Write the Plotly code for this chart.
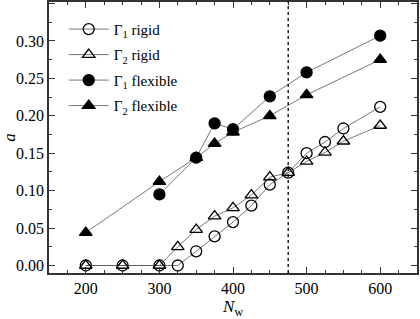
import plotly.graph_objects as go

nw_rigid = [200, 250, 300, 325, 350, 375, 400, 425, 450, 475, 500, 525, 550, 600]
g1_rigid = [0.0, 0.0, 0.0, 0.0, 0.019, 0.039, 0.058, 0.080, 0.108, 0.124, 0.150, 0.165, 0.183, 0.212]
g2_rigid = [0.0, 0.0, 0.0, 0.025, 0.048, 0.066, 0.077, 0.094, 0.118, 0.124, 0.139, 0.151, 0.166, 0.187]

nw_g1_flex = [300, 350, 375, 400, 450, 500, 600]
g1_flex = [0.095, 0.144, 0.190, 0.182, 0.226, 0.258, 0.307]
nw_g2_flex = [200, 300, 350, 375, 400, 450, 500, 600]
g2_flex = [0.044, 0.112, 0.144, 0.163, 0.178, 0.200, 0.228, 0.275]

vline_x = 475

FONT = "Liberation Serif"
line_col = "#555555"
fig = go.Figure()
series = [
    ("Γ<sub>1</sub> rigid", nw_rigid, g1_rigid, "circle-open"),
    ("Γ<sub>2</sub> rigid", nw_rigid, g2_rigid, "triangle-up-open"),
    ("Γ<sub>1</sub> flexible", nw_g1_flex, g1_flex, "circle"),
    ("Γ<sub>2</sub> flexible", nw_g2_flex, g2_flex, "triangle-up"),
]
for i, (name, x, y, sym) in enumerate(series):
    fig.add_trace(go.Scatter(
        x=x, y=y, name=name, mode="lines+markers", legendgroup=f"g{i}",
        line=dict(color=line_col, width=0.8),
        marker=dict(symbol=sym, size=11, color="black",
                    line=dict(color="black", width=1.3)),
    ))

fig.add_shape(type="line", x0=vline_x, x1=vline_x, y0=0, y1=1, yref="paper",
              line=dict(color="black", width=1.3, dash="dot"))

fig.update_layout(
    width=420, height=319,
    margin=dict(l=49, r=3, t=2, b=46),
    paper_bgcolor="white", plot_bgcolor="white",
    font=dict(family=FONT, color="black", size=16),
    showlegend=True,
    legend=dict(x=0.04, y=0.96, xanchor="left", yanchor="top",
                bgcolor="rgba(0,0,0,0)", tracegroupgap=3,
                font=dict(family=FONT, size=15, color="black"),
                itemwidth=40),
    xaxis=dict(
        range=[150, 650], dtick=100, tick0=0,
        showline=True, linecolor="#333333", linewidth=1.5, mirror="allticks",
        ticks="inside", tickcolor="#333333", ticklen=6, tickwidth=1.2,
        showgrid=False, zeroline=False, automargin=False,
        tickfont=dict(family=FONT, size=16, color="black"),
        minor=dict(dtick=25, ticks="inside", ticklen=3, tickcolor="#333333", tickwidth=1),
        title=dict(text="<i>N</i><sub>w</sub>", font=dict(family=FONT, size=17, color="black")),
    ),
    yaxis=dict(
        range=[-0.01, 0.352], dtick=0.05, tick0=0, tickformat=".2f",
        showline=True, linecolor="#333333", linewidth=1.5, mirror="allticks",
        ticks="inside", tickcolor="#333333", ticklen=6, tickwidth=1.2,
        showgrid=False, zeroline=False, automargin=False,
        tickfont=dict(family=FONT, size=16, color="black"),
        minor=dict(dtick=0.025, ticks="inside", ticklen=3, tickcolor="#333333", tickwidth=1),
        title=dict(text="<i>a</i>", font=dict(family=FONT, size=17, color="black")),
    ),
)

fig.write_html("out.html", config={"displayModeBar": False},
               post_script="document.body.style.margin='0';")
